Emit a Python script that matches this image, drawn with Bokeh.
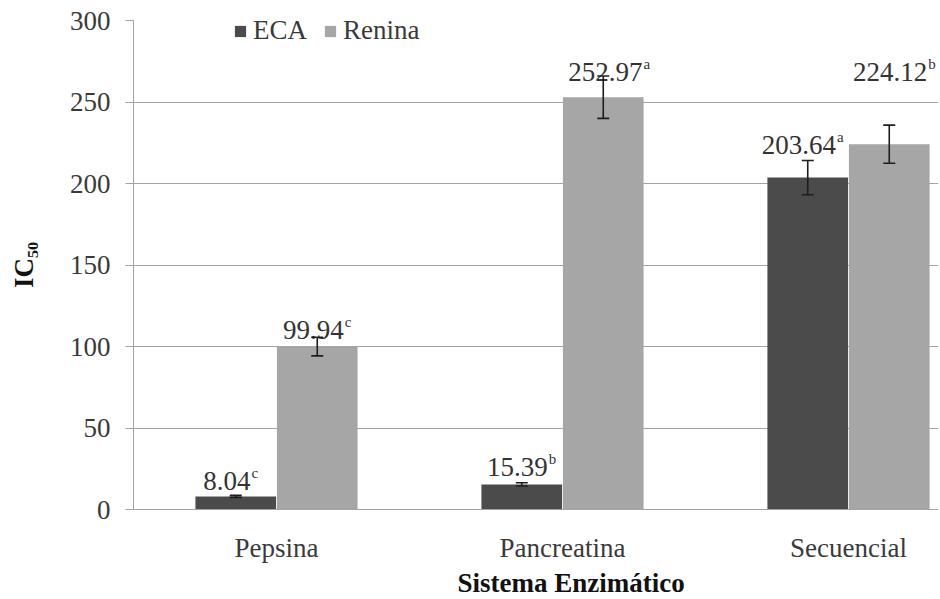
from bokeh.plotting import figure
from bokeh.models import (ColumnDataSource, Whisker, TeeHead, FixedTicker, Legend,
                          LegendItem, Title, Range1d)
from bokeh.core.properties import value
from bokeh.embed import file_html
from bokeh.resources import INLINE

# ---------------- data ----------------
categories = ["Pepsina", "Pancreatina", "Secuencial"]
eca = [8.04, 15.39, 203.64]
renina = [99.94, 252.97, 224.12]
eca_err = [0.6, 1.0, 10.5]
renina_err = [5.7, 13.0, 11.7]
eca_letters = ["c", "b", "a"]
renina_letters = ["c", "a", "b"]
y_ticks = [0, 50, 100, 150, 200, 250, 300]

# ---------------- style ----------------
FONT = "'Liberation Serif', 'Times New Roman', serif"
ECA_COLOR = "#4b4b4b"
REN_COLOR = "#a6a6a6"
GRID_COLOR = "#a3a3a3"
TEXT_COLOR = "#3a3a3a"
FS = 27          # main font size px
SUP_FS = 15      # superscript font size px
BAR_OFF = 0.1425
BAR_W = 0.282
CAT_PX = 286.0
# label placement tweaks (screen px, baseline relative to bar top)
eca_label_dy = [-15, -17.5, -33]
ren_label_dy = [-17, -25, -72]
eca_label_dx = [-5, 0, -5]
ren_label_dx = [0, 6, 5]

W, H = 938, 597
BL, BR, BT, BB = 133, 0, 20, 79

centers = [i + 0.5 for i in range(len(categories))]
x_eca = [c - BAR_OFF for c in centers]
x_ren = [c + BAR_OFF for c in centers]


def text_w(s, size):
    return sum(0.5 if ch.isdigit() else 0.25 for ch in s) * size


def letter_w(ch, size):
    return {"a": 0.444, "b": 0.5, "c": 0.444}.get(ch, 0.5) * size


p = figure(width=W, height=H, output_backend="svg", toolbar_location=None,
           x_range=Range1d(0, (W - BL - BR) / CAT_PX), y_range=Range1d(0, 300),
           min_border_left=BL, min_border_right=BR, min_border_top=BT,
           min_border_bottom=BB)
p.outline_line_color = None
p.background_fill_color = "white"
p.border_fill_color = "white"

src_eca = ColumnDataSource(dict(x=x_eca, top=eca, upper=[v + e for v, e in zip(eca, eca_err)],
                                lower=[v - e for v, e in zip(eca, eca_err)]))
src_ren = ColumnDataSource(dict(x=x_ren, top=renina, upper=[v + e for v, e in zip(renina, renina_err)],
                                lower=[v - e for v, e in zip(renina, renina_err)]))

r_eca = p.vbar(x="x", top="top", bottom=0, width=BAR_W, source=src_eca,
               fill_color=ECA_COLOR, line_color=None)
r_ren = p.vbar(x="x", top="top", bottom=0, width=BAR_W, source=src_ren,
               fill_color=REN_COLOR, line_color=None)

for src in (src_eca, src_ren):
    w = Whisker(base="x", upper="upper", lower="lower", source=src,
                line_color="#1e1e1e", line_width=1.6, level="annotation",
                upper_head=TeeHead(size=12, line_color="#1e1e1e", line_width=1.6),
                lower_head=TeeHead(size=12, line_color="#1e1e1e", line_width=1.6))
    p.add_layout(w)

# value labels (number + superscript letter)
for xs, vals, lets, dys, dxs in ((x_eca, eca, eca_letters, eca_label_dy, eca_label_dx),
                                 (x_ren, renina, renina_letters, ren_label_dy, ren_label_dx)):
    nums = [f"{v:.2f}" for v in vals]
    anchor = []
    for n, l, dx in zip(nums, lets, dxs):
        nw = text_w(n, FS)
        lw = letter_w(l, SUP_FS) + 1
        anchor.append(dx + (nw - lw) / 2)
    ls = ColumnDataSource(dict(x=xs, y=vals, num=nums, let=lets,
                               dxn=anchor, dxl=[a + 1 for a in anchor],
                               dyn=dys, dyl=[d - 8 for d in dys]))
    p.text(x="x", y="y", text="num", x_offset="dxn", y_offset="dyn", source=ls,
           text_font=value(FONT), text_font_size=f"{FS}px", text_color="#333333",
           text_align="right", text_baseline="alphabetic")
    p.text(x="x", y="y", text="let", x_offset="dxl", y_offset="dyl", source=ls,
           text_font=value(FONT), text_font_size=f"{SUP_FS}px", text_color="#333333",
           text_align="left", text_baseline="alphabetic")

# axes
p.xgrid.visible = False
p.ygrid.ticker = FixedTicker(ticks=y_ticks)
p.ygrid.grid_line_color = GRID_COLOR
p.ygrid.grid_line_width = 1

p.yaxis.ticker = FixedTicker(ticks=y_ticks)
p.yaxis.axis_line_color = GRID_COLOR
p.yaxis.major_tick_line_color = GRID_COLOR
p.yaxis.major_tick_out = 8
p.yaxis.major_tick_in = 0
p.yaxis.minor_tick_line_color = None
p.yaxis.major_label_standoff = 15
p.yaxis.major_label_text_font = FONT
p.yaxis.major_label_text_font_size = f"{FS}px"
p.yaxis.major_label_text_color = TEXT_COLOR
p.yaxis.axis_label = "IC\u2085\u2080"
p.yaxis.axis_label_text_font = FONT
p.yaxis.axis_label_text_font_style = "bold"
p.yaxis.axis_label_text_font_size = f"{FS}px"
p.yaxis.axis_label_text_color = "#111111"
p.yaxis.axis_label_standoff = 28

p.xaxis.ticker = FixedTicker(ticks=centers)
p.xaxis.major_label_overrides = {c: name for c, name in zip(centers, categories)}
p.xaxis.axis_line_color = GRID_COLOR
p.xaxis.major_tick_line_color = None
p.xaxis.minor_tick_line_color = None
p.xaxis.major_label_standoff = 17
p.xaxis.major_label_text_font = FONT
p.xaxis.major_label_text_font_size = f"{FS}px"
p.xaxis.major_label_text_color = TEXT_COLOR

# x axis title, offset to the right like the reference
p.add_layout(Title(text="Sistema Enzimático", align="left", offset=324, standoff=0,
                   text_font=FONT, text_font_style="bold", text_font_size=f"{FS}px",
                   text_color="#111111"), "below")

legend = Legend(items=[LegendItem(label="ECA", renderers=[r_eca]),
                       LegendItem(label="Renina", renderers=[r_ren])],
                location=(100, 463), orientation="horizontal", level="overlay",
                glyph_width=14, glyph_height=14, label_standoff=6, spacing=16,
                padding=0, margin=0, background_fill_alpha=0, border_line_color=None,
                label_text_font=FONT, label_text_font_size=f"{FS}px",
                label_text_color=TEXT_COLOR)
p.add_layout(legend)

open("out.html", "w").write(file_html(p, INLINE))
